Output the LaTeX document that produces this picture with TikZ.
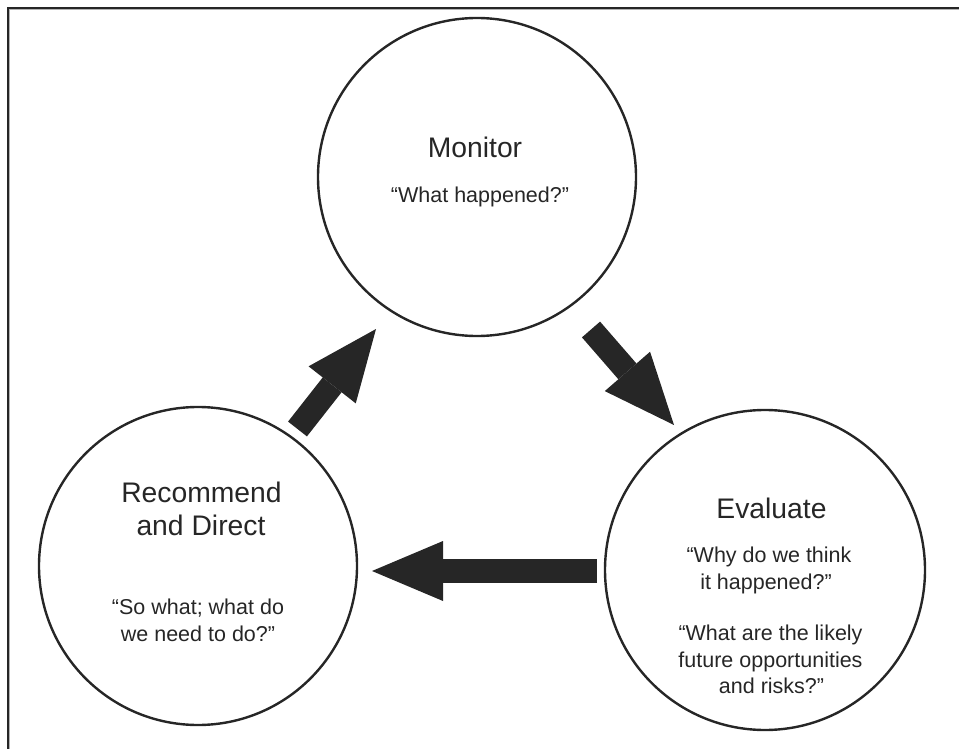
\documentclass[tikz,border=0pt]{standalone}
\usepackage{fontspec}
\setmainfont{Liberation Sans}
\usetikzlibrary{arrows.meta}
\definecolor{ink}{HTML}{262626}
\begin{document}
\begin{tikzpicture}[x=1pt,y=-1pt,
  stage/.style={circle, draw=ink, line width=2.4pt, inner sep=0pt},
  title/.style={anchor=base, text=ink, inner sep=0pt, font=\fontsize{28.3}{34}\selectfont},
  question/.style={anchor=base, text=ink, inner sep=0pt, font=\fontsize{21.5}{27}\selectfont},
  flow/.style={draw=ink, line width=24pt, -{Triangle[length=71pt,width=60pt,line width=0pt]}}]
\useasboundingbox (0,0) rectangle (959,749);

% open frame: top and left edges only
\draw[gray!60, line width=1pt] (959,9.6) -- (9.6,9.6) -- (9.6,749);
\draw[ink, line width=2.4pt] (959,7.8) -- (7.8,7.8) -- (7.8,749);

% the three stages of the cycle
\node[stage, minimum size=318pt] (mon) at (477,177) {};
\node[stage, minimum size=318pt] (rec) at (198,566) {};
\node[stage, minimum size=320pt] (eva) at (765,570) {};

% Monitor
\node[title]    (mon-t)  at (475,158) {Monitor};
\node[question] (mon-q)  at (480,202) {“What happened?”};

% Recommend and Direct
\node[title]    (rec-t1) at (201.5,502) {Recommend};
\node[title]    (rec-t2) at (201,535) {and Direct};
\node[question] (rec-q1) at (198,614) {“So what; what do};
\node[question] (rec-q2) at (198,641) {we need to do?”};

% Evaluate
\node[title]    (eva-t)  at (771.5,518) {Evaluate};
\node[question] (eva-q1) at (769,562) {“Why do we think};
\node[question] (eva-q2) at (766,589) {it happened?”};
\node[question] (eva-q3) at (770.5,640) {“What are the likely};
\node[question] (eva-q4) at (770.5,667) {future opportunities};
\node[question] (eva-q5) at (771.5,693) {and risks?”};

% block arrows between the stages
\draw[flow] ([shift={(99.5,-137)}]rec.center) -- ([shift={(-101,152)}]mon.center);
\draw[flow] ([shift={(114,152.5)}]mon.center) -- ([shift={(-91,-145)}]eva.center);
\draw[flow] ([shift={(-168,1)}]eva.center) -- ([shift={(174,5)}]rec.center);
\end{tikzpicture}
\end{document}
